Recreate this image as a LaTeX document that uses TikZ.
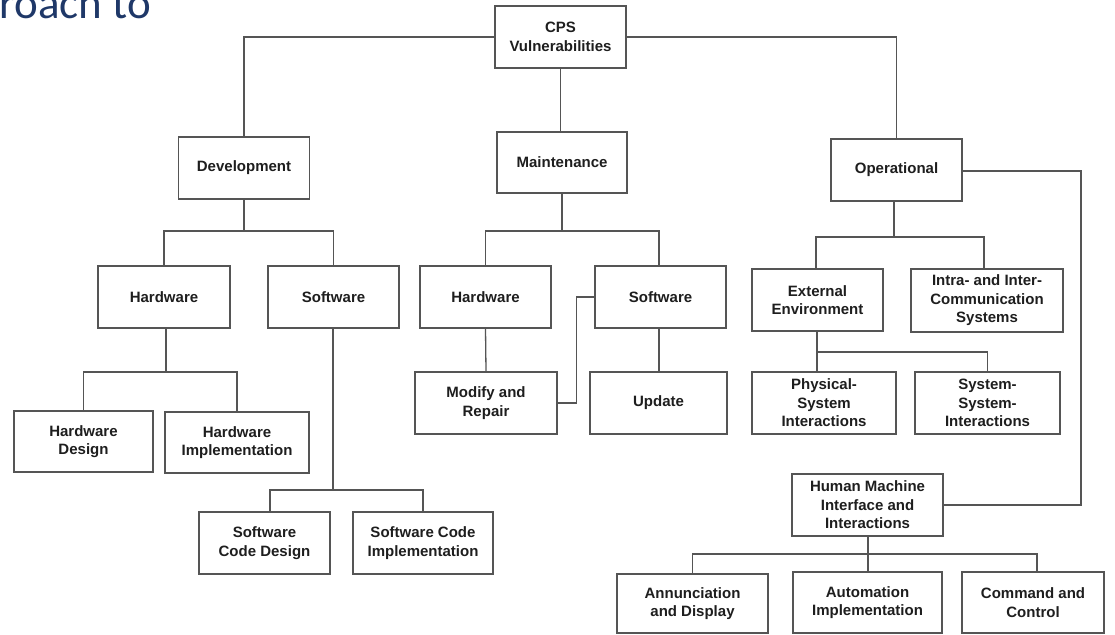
\documentclass[tikz,border=0pt]{standalone}
\usepackage{fontspec}
\setmainfont{Liberation Sans}
\newfontfamily\titlefont{Carlito}
\definecolor{titleblue}{RGB}{31,56,104}
\definecolor{edge}{RGB}{85,85,85}
\definecolor{ink}{RGB}{30,30,30}
\tikzset{
  box/.style={draw=edge, line width=1.3pt, fill=white, rectangle, inner sep=0pt,
    align=center, text=ink, font=\bfseries\fontsize{15}{18.5}\selectfont},
  link/.style={draw=edge, line width=1.3pt}
}
\newcommand{\boxat}[6]{% name, cx, cy, w, h, text
  \node[box, minimum width=#4pt, minimum height=#5pt] (#1) at (#2,#3) {#6};}
\begin{document}
\begin{tikzpicture}[x=1pt, y=-1pt]
\useasboundingbox (0,0) rectangle (1115,634);
\clip (0,0) rectangle (1115,634);
\fill[white] (0,0) rectangle (1115,634);

% slide title, cut by the top edge
\node[anchor=base west, inner sep=0pt, text=titleblue,
      font=\titlefont\fontsize{45}{45}\selectfont] (title) at (-74,19) {Approach to};

% root and first level
\boxat{cps}{560.5}{37}{131}{62}{CPS\\Vulnerabilities}
\boxat{dev}{244}{168}{131}{62}{Development}
\boxat{mnt}{562}{162.5}{130}{61}{Maintenance}
\boxat{ops}{896.5}{170}{131}{62}{Operational}

% development branch
\boxat{dhw}{164}{297}{132}{62}{Hardware}
\boxat{dsw}{333.5}{297}{131}{62}{Software}
\boxat{hd}{83.5}{441.5}{139}{61}{Hardware\\Design}
\boxat{hi}{237}{442.5}{144}{61}{Hardware\\Implementation}
\boxat{scd}{264.5}{543}{131}{62}{Software\\Code Design}
\boxat{sci}{423}{543}{140}{62}{Software Code\\Implementation}

% maintenance branch
\boxat{mhw}{485.5}{297}{131}{62}{Hardware}
\boxat{msw}{660.5}{297}{131}{62}{Software}
\boxat{mod}{486}{403}{142}{62}{Modify and\\Repair}
\boxat{upd}{658.5}{403}{137}{62}{Update}

% operational branch
\boxat{ext}{817.5}{300}{131}{62}{External\\Environment}
\boxat{intra}{987}{300.5}{152}{63}{Intra- and Inter-\\Communication\\Systems}
\boxat{phys}{824}{403}{144}{62}{Physical-\\System\\Interactions}
\boxat{sys}{987.5}{403}{145}{62}{System-\\System-\\Interactions}
\boxat{hmi}{867.5}{505}{151}{62}{Human Machine\\Interface and\\Interactions}
\boxat{ann}{692.5}{603.5}{151}{59}{Annunciation\\and Display}
\boxat{aut}{867.5}{602.5}{149}{61}{Automation\\Implementation}
\boxat{cmd}{1033}{602.5}{142}{61}{Command and\\Control}

% junction points of the tree
\coordinate (jdev) at (244,231);
\coordinate (jmnt) at (562,231);
\coordinate (jops) at (894,237);
\coordinate (jdhw) at (166,372);
\coordinate (jdsw) at (333,490);
\coordinate (jext) at (817,352);
\coordinate (jhmi) at (868,554);
\coordinate (jside) at (1081,171);

\begin{scope}[on background layer/.try]
% root to first level
\draw[link] (cps.west) -| (dev.north);
\draw[link] (cps.south) -- (cps.south |- mnt.north);
\draw[link] (cps.east) -| (ops.north);

% development
\draw[link] (dev.south) -- (jdev);
\draw[link] (dhw.north) |- (jdev) -| (dsw.north);
\draw[link] (dhw.south -| jdhw) -- (jdhw);
\draw[link] (hd.north) |- (jdhw) -| (hi.north);
\draw[link] (dsw.south -| jdsw) -- (jdsw);
\draw[link] (scd.north -| 270,0) |- (jdsw) -| (sci.north);

% maintenance
\draw[link] (mnt.south) -- (jmnt);
\draw[link] (mhw.north) |- (jmnt) -| (msw.north -| 659,0);
\draw[link] (mhw.south) -- (mod.north);
\draw[link] (msw.south -| 659,0) -- (upd.north -| 659,0);
\draw[link] (msw.west) -- ++(-18,0) |- (mod.east);

% operational
\draw[link] (ops.south -| jops) -- (jops);
\draw[link] (ext.north -| 816,0) |- (jops) -| (intra.north -| 984,0);
\draw[link] (ext.south -| jext) -- (jext);
\draw[link] (phys.north -| jext) -- (jext) -| (sys.north);
\draw[link] (ops.east |- jside) -- (jside) |- (hmi.east);
\draw[link] (hmi.south -| jhmi) -- (jhmi);
\draw[link] (ann.north) |- (jhmi) -| (cmd.north -| 1037,0);
\draw[link] (jhmi) -- (aut.north -| jhmi);
\end{scope}
\end{tikzpicture}
\end{document}
